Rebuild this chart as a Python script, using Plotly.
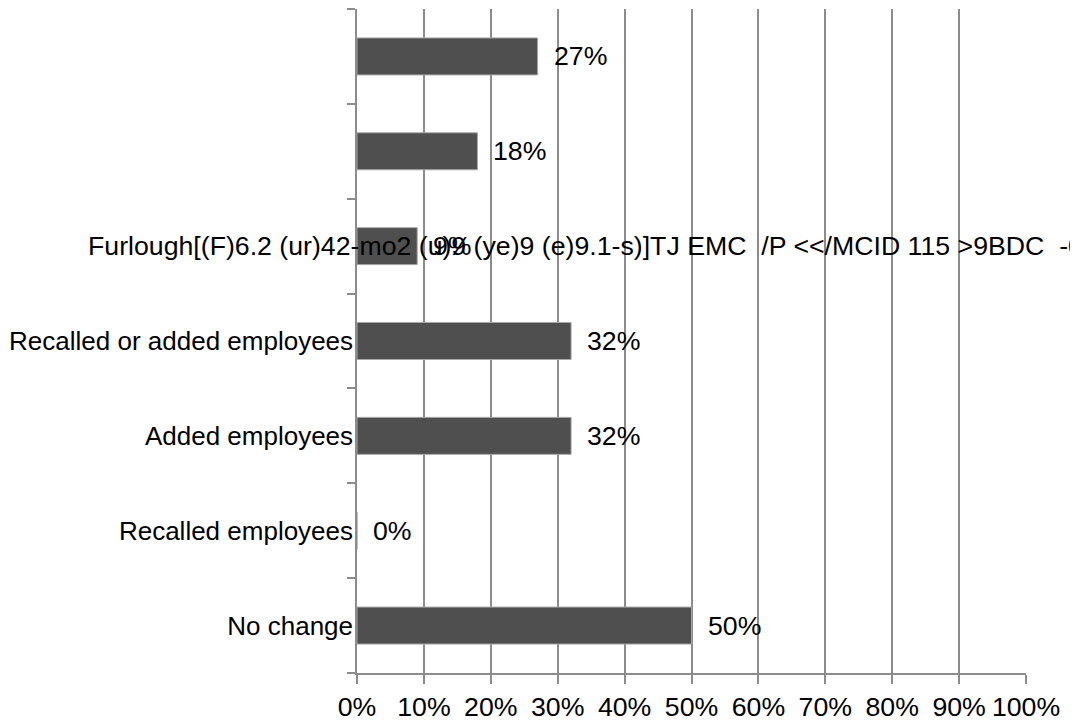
import plotly.graph_objects as go

# Data (bottom to top)
cat_ids = ["c1", "c2", "c3", "c4", "c5", "c6", "c7"]
cat_labels = ["No change", "Recalled employees", "Added employees",
              "Recalled or added employees", "", "", ""]
furlough_label = "Furlough[(F)6.2 (ur)42-mo2 (u)9 (ye)9 (e)9.1-s)]TJ EMC  /P <</MCID 115 >9BDC  -0.001 Tc"
values = [0.50, 0.0, 0.32, 0.32, 0.09, 0.18, 0.27]
value_text = ["50%", "0%", "32%", "32%", "9%", "18%", "27%"]
x_ticks = [0, 0.1, 0.2, 0.3, 0.4, 0.5, 0.6, 0.7, 0.8, 0.9, 1.0]

FONT = "Liberation Sans, Arial, sans-serif"
FS = 26.7
GRID = "#8c8c8c"

fig = go.Figure(go.Bar(
    x=values, y=cat_ids, orientation="h",
    marker=dict(color="#4f4f4f", line=dict(color="#a8a8a8", width=1)),
    width=0.39,
))

annotations = []
for v, t, c in zip(values, value_text, cat_ids):
    annotations.append(dict(x=v, y=c, xref="x", yref="y", text=t, showarrow=False,
                            xanchor="left", yanchor="middle", xshift=14,
                            font=dict(family=FONT, size=FS, color="#000000")))
annotations.append(dict(x=-0.405, y="c5", xref="paper", yref="y", text=furlough_label,
                        showarrow=False, xanchor="left", yanchor="middle", yshift=0,
                        font=dict(family=FONT, size=FS, color="#000000")))

fig.update_layout(
    width=1070, height=713,
    margin=dict(l=349, r=52, t=1, b=48, autoexpand=False),
    paper_bgcolor="white", plot_bgcolor="white",
    showlegend=False,
    font=dict(family=FONT, size=FS, color="#000000"),
    annotations=annotations,
    xaxis=dict(range=[0, 1], tickvals=x_ticks, tickformat=".0%",
               showgrid=True, gridcolor=GRID, gridwidth=1.5,
               showline=True, linecolor=GRID, linewidth=1.5,
               ticks="outside", ticklen=9, tickcolor=GRID, tickwidth=1.5,
               zeroline=False, fixedrange=True, automargin=False,
               tickfont=dict(family=FONT, size=FS, color="#000000")),
    yaxis=dict(type="category", categoryorder="array", categoryarray=cat_ids,
               tickvals=cat_ids, ticktext=cat_labels,
               range=[-0.5, 6.5], automargin=False,
               tickson="boundaries", ticks="outside", ticklen=8,
               ticklabelstandoff=-3,
               tickcolor=GRID, tickwidth=1.5,
               showline=True, linecolor=GRID, linewidth=1.5,
               showgrid=False, zeroline=False,
               tickfont=dict(family=FONT, size=26, color="#000000")),
)

fig.write_html("out.html")
